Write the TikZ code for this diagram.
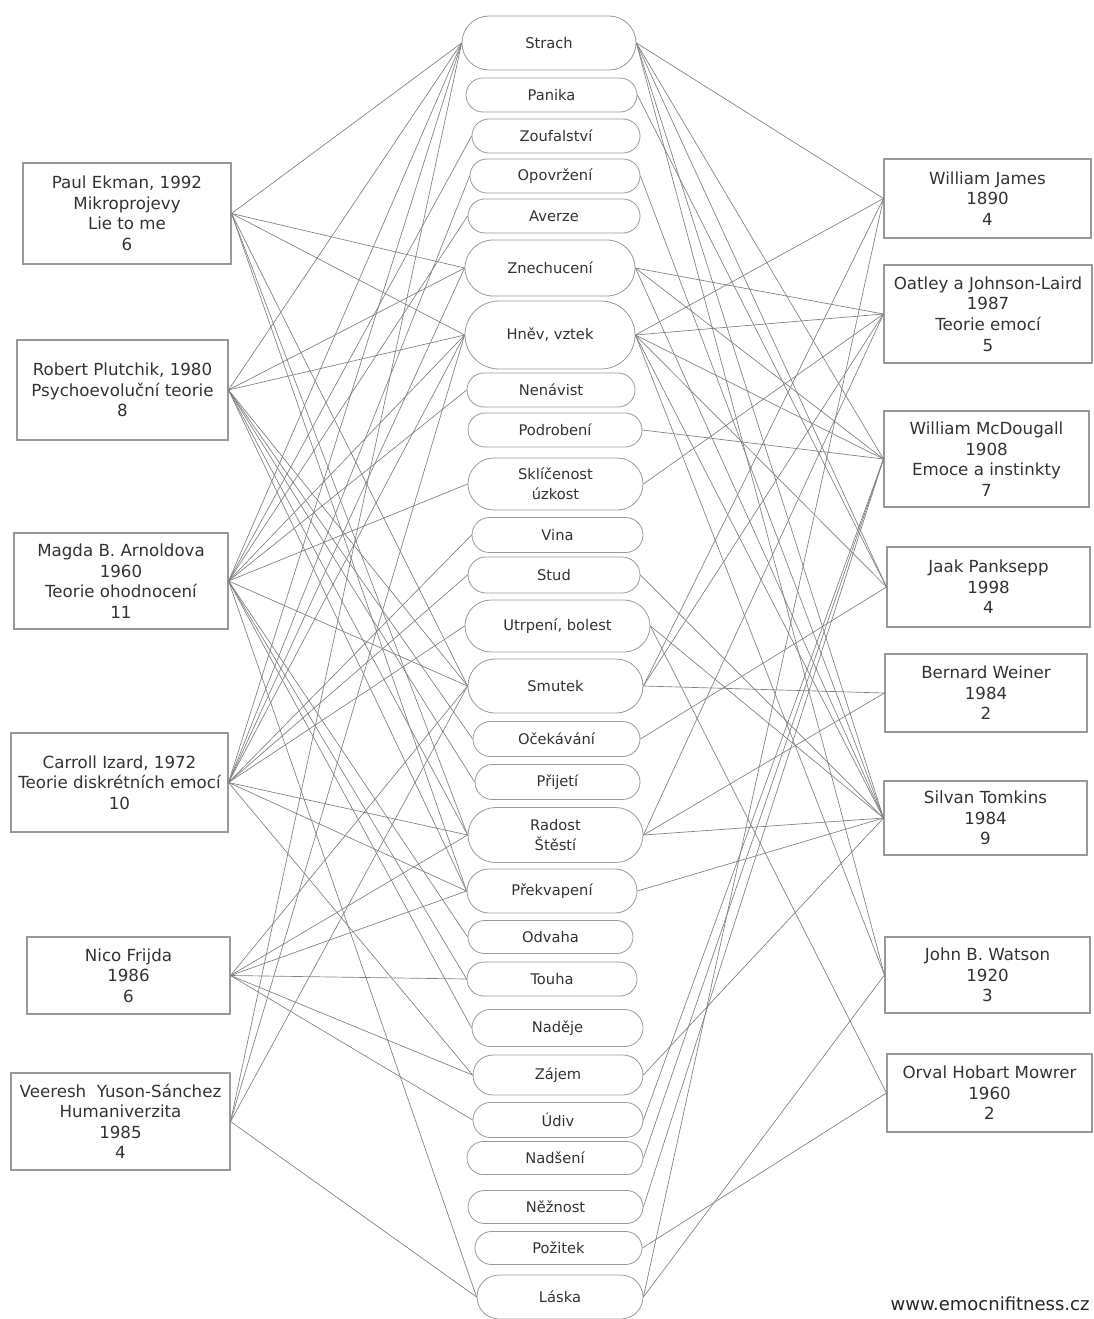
\documentclass[tikz,border=0pt]{standalone}
\usepackage{fontspec}
\setmainfont{DejaVu Sans}
\usetikzlibrary{shapes.misc}
\begin{document}
\begin{tikzpicture}[x=0.75pt,y=-0.75pt,
  pill/.style={rounded rectangle, draw=black!40, line width=0.6pt, inner sep=0pt, align=center, text=black!80, font=\fontsize{11}{15}\selectfont},
  box/.style={rectangle, draw=black!40, line width=0.8pt, inner sep=0pt, align=center, text=black!80, font=\fontsize{12.5}{15.4}\selectfont},
  link/.style={draw=black!50, line width=0.5pt},
  sz/.style 2 args={minimum width=#1*0.75pt, minimum height=#2*0.75pt}]
\useasboundingbox (0,0) rectangle (1094,1319);
% emotions
\node[pill, sz={174}{54}] (strach) at (549,43) {Strach};
\node[pill, sz={171}{34}] (panika) at (551.5,95) {Panika};
\node[pill, sz={168}{34}] (zoufalstvi) at (556,136) {Zoufalství};
\node[pill, sz={170}{34}] (opovrzeni) at (555,176) {Opovržení};
\node[pill, sz={172}{34}] (averze) at (554,216) {Averze};
\node[pill, sz={170}{56}] (znechuceni) at (550,268) {Znechucení};
\node[pill, sz={170}{68}] (hnev) at (550,335) {Hněv, vztek};
\node[pill, sz={168}{34}] (nenavist) at (551,390) {Nenávist};
\node[pill, sz={174}{34}] (podrobeni) at (555,430) {Podrobení};
\node[pill, sz={175}{52}] (sklicenost) at (555.5,484) {Sklíčenost\\úzkost};
\node[pill, sz={171}{35}] (vina) at (557.5,535) {Vina};
\node[pill, sz={172}{36}] (stud) at (554,575) {Stud};
\node[pill, sz={185}{52}] (utrpeni) at (557.5,626) {Utrpení, bolest};
\node[pill, sz={175}{54}] (smutek) at (555.5,686) {Smutek};
\node[pill, sz={167}{35}] (ocekavani) at (556.5,739) {Očekávání};
\node[pill, sz={165}{35}] (prijeti) at (557.5,782) {Přijetí};
\node[pill, sz={175}{55}] (radost) at (555.5,835) {Radost\\Štěstí};
\node[pill, sz={170}{44}] (prekvapeni) at (552,891) {Překvapení};
\node[pill, sz={165}{33}] (odvaha) at (550.5,937) {Odvaha};
\node[pill, sz={170}{34}] (touha) at (552,979) {Touha};
\node[pill, sz={171}{37}] (nadeje) at (557.5,1028) {Naděje};
\node[pill, sz={170}{40}] (zajem) at (558,1075) {Zájem};
\node[pill, sz={170}{35}] (udiv) at (558,1120) {Údiv};
\node[pill, sz={176}{33}] (nadseni) at (555,1158) {Nadšení};
\node[pill, sz={175}{33}] (neznost) at (555.5,1207) {Něžnost};
\node[pill, sz={167}{33}] (pozitek) at (558.5,1248) {Požitek};
\node[pill, sz={166}{44}] (laska) at (560,1297) {Láska};
% left authors
\node[box, sz={208}{101}] (ekman) at (127,213.5) {Paul Ekman, 1992\\Mikroprojevy\\Lie to me\\6};
\node[box, sz={211}{100}] (plutchik) at (122.5,390) {Robert Plutchik, 1980\\Psychoevoluční teorie\\8};
\node[box, sz={214}{96}] (arnold) at (121,581) {Magda B. Arnoldova\\1960\\Teorie ohodnocení\\11};
\node[box, sz={217}{99}] (izard) at (119.5,782.5) {Carroll Izard, 1972\\Teorie diskrétních emocí\\10};
\node[box, sz={203}{77}] (frijda) at (128.5,975.5) {Nico Frijda\\1986\\6};
\node[box, sz={219}{97}] (veeresh) at (120.5,1121.5) {Veeresh\ \ Yuson-Sánchez\\Humaniverzita\\1985\\4};
% right authors
\node[box, sz={207}{79}] (james) at (987.5,198.5) {William James\\1890\\4};
\node[box, sz={208}{98}] (oatley) at (988,314) {Oatley a Johnson-Laird\\1987\\Teorie emocí\\5};
\node[box, sz={205}{96}] (mcdougall) at (986.5,459) {William McDougall\\1908\\Emoce a instinkty\\7};
\node[box, sz={203}{80}] (panksepp) at (988.5,587) {Jaak Panksepp\\1998\\4};
\node[box, sz={202}{78}] (weiner) at (986,693) {Bernard Weiner\\1984\\2};
\node[box, sz={203}{74}] (tomkins) at (985.5,818) {Silvan Tomkins\\1984\\9};
\node[box, sz={205}{76}] (watson) at (987.5,975) {John B. Watson\\1920\\3};
\node[box, sz={205}{78}] (mowrer) at (989.5,1093) {Orval Hobart Mowrer\\1960\\2};
\node[text=black!85, font=\fontsize{13.5}{16}\selectfont] (web) at (990,1304) {www.emocnifitness.cz};
% left links
\foreach \e in {strach,znechuceni,hnev,smutek,radost,prekvapeni}
  \draw[link] (ekman.east) -- (\e.west);
\foreach \e in {strach,znechuceni,hnev,smutek,ocekavani,prijeti,radost,prekvapeni}
  \draw[link] (plutchik.east) -- (\e.west);
\foreach \e in {strach,zoufalstvi,averze,hnev,nenavist,sklicenost,smutek,odvaha,touha,nadeje,laska}
  \draw[link] (arnold.east) -- (\e.west);
\foreach \e in {strach,opovrzeni,znechuceni,hnev,vina,stud,utrpeni,radost,prekvapeni,zajem}
  \draw[link] (izard.east) -- (\e.west);
\foreach \e in {smutek,radost,prekvapeni,touha,zajem,udiv}
  \draw[link] (frijda.east) -- (\e.west);
\foreach \e in {strach,hnev,smutek,laska}
  \draw[link] (veeresh.east) -- (\e.west);
% right links
\foreach \e in {strach,hnev,smutek,laska}
  \draw[link] (james.west) -- (\e.east);
\foreach \e in {hnev,znechuceni,sklicenost,smutek,radost}
  \draw[link] (oatley.west) -- (\e.east);
\foreach \e in {strach,hnev,znechuceni,podrobeni,udiv,nadseni,neznost}
  \draw[link] (mcdougall.west) -- (\e.east);
\foreach \e in {strach,panika,hnev,ocekavani}
  \draw[link] (panksepp.west) -- (\e.east);
\foreach \e in {smutek,radost}
  \draw[link] (weiner.west) -- (\e.east);
\foreach \e in {strach,opovrzeni,znechuceni,hnev,stud,utrpeni,radost,prekvapeni,zajem}
  \draw[link] (tomkins.west) -- (\e.east);
\foreach \e in {strach,hnev,laska}
  \draw[link] (watson.west) -- (\e.east);
\foreach \e in {utrpeni,pozitek}
  \draw[link] (mowrer.west) -- (\e.east);
\end{tikzpicture}
\end{document}
